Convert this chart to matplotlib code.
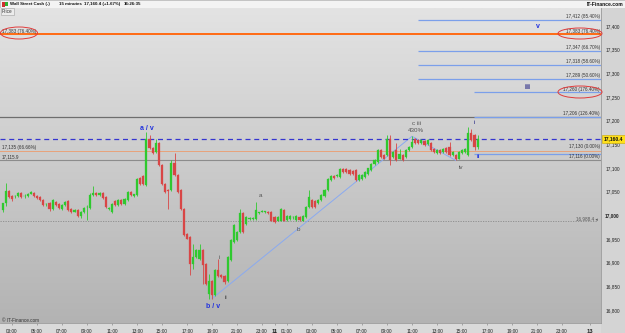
import matplotlib
matplotlib.use("Agg")
import matplotlib.pyplot as plt
import numpy as np
from matplotlib.patches import Ellipse, Rectangle
from matplotlib.colors import LinearSegmentedColormap

plt.rcParams['font.family'] = ['Liberation Sans', 'DejaVu Sans']

# ---------------- data ----------------
bar_start_hour = 2.25   # first 15-min bar (hours from day start)
bar_step = 0.25
opens = [17011,17025,17051,17040,17040,17040,17047,17040,17040,17046,
         17047,17040,17039,17032,17023,17025,17014,17028,17023,17014,
         17021,17030,17013,17008,17011,16999,17007,17017,17016,17042,
         17047,17042,17047,17039,17014,17007,17030,17021,17033,17023,
         17033,17050,17040,17042,17078,17083,17063,17162,17143,17134,
         17152,17106,17067,17053,17053,17111,17085,17053,17014,16961,
         16954,16898,16912,16908,16926,16898,16834,16862,16831,16884,
         16873,16871,16862,16905,16944,16947,16965,17004,16982,16993,
         16993,16993,17005,17008,17008,17008,17007,16996,16989,16989,
         17011,16991,16993,16996,16991,16996,16989,16996,17018,17033,
         17030,17025,17032,17040,17053,17074,17084,17084,17081,17097,
         17097,17095,17093,17095,17074,17076,17081,17088,17095,17109,
         17113,17138,17127,17127,17162,17123,17138,17120,17127,17124,
         17138,17145,17162,17159,17152,17157,17150,17152,17141,17131,
         17139,17134,17143,17145,17127,17127,17120,17131,17134,17127,
         17173,17169,17145]
highs = [17027,17068,17054,17042,17043,17049,17049,17044,17048,17052,
         17049,17042,17041,17034,17026,17028,17034,17031,17025,17023,
         17030,17032,17015,17014,17013,17009,17017,17021,17047,17061,
         17049,17049,17050,17041,17017,17025,17032,17034,17035,17036,
         17051,17052,17046,17078,17080,17085,17176,17169,17145,17162,
         17154,17108,17069,17055,17116,17132,17087,17055,17016,16963,
         16956,16940,16928,16940,16928,16900,16877,16864,16886,16908,
         16875,16873,16914,16949,16981,16967,17014,17006,16998,16996,
         16996,17028,17008,17011,17010,17010,17009,16998,16998,17015,
         17013,17000,17000,16999,17000,16998,17000,17020,17053,17035,
         17032,17035,17044,17055,17078,17085,17086,17087,17100,17099,
         17099,17097,17095,17097,17087,17087,17094,17101,17111,17118,
         17141,17140,17129,17169,17169,17136,17152,17141,17129,17140,
         17147,17167,17164,17161,17161,17159,17162,17154,17143,17140,
         17141,17143,17145,17155,17136,17129,17136,17140,17143,17187,
         17182,17171,17169]
lows = [17008,17020,17036,17030,17037,17038,17037,17036,17038,17044,
        17038,17035,17031,17019,17020,17010,17012,17019,17014,17012,
        17019,17010,17005,17006,16997,16994,17005,16990,17014,17040,
        17040,17040,17035,17016,17011,17005,17019,17019,17021,17021,
        17031,17040,17038,17040,17065,17064,17061,17141,17129,17132,
        17104,17065,17047,17014,17051,17083,17047,17012,16956,16949,
        16873,16887,16910,16906,16855,16853,16824,16824,16829,16869,
        16868,16855,16860,16903,16942,16945,16963,16963,16980,16990,
        16990,16991,17003,17006,17005,17003,16987,16984,16987,16987,
        16987,16989,16991,16993,16989,16989,16987,16994,17016,17016,
        17016,17023,17030,17038,17051,17072,17076,17082,17079,17090,
        17090,17086,17086,17072,17072,17074,17079,17086,17093,17107,
        17111,17122,17118,17125,17106,17121,17114,17118,17114,17122,
        17136,17143,17150,17150,17150,17146,17148,17136,17132,17129,
        17129,17132,17132,17125,17125,17116,17118,17129,17132,17125,
        17157,17138,17140]
closes = [17025,17051,17039,17035,17040,17047,17039,17041,17046,17050,
          17040,17037,17033,17021,17023,17014,17032,17021,17016,17021,
          17028,17012,17007,17012,16999,17007,17015,17018,17042,17047,
          17042,17047,17037,17018,17015,17023,17021,17032,17023,17034,
          17049,17042,17044,17076,17067,17066,17162,17143,17131,17152,
          17106,17067,17049,17052,17111,17085,17049,17014,16958,16951,
          16898,16912,16926,16926,16894,16855,16862,16831,16884,16871,
          16870,16859,16912,16947,16979,16965,17004,16965,16996,16994,
          16993,17011,17006,17009,17008,17005,16989,16986,16996,17013,
          16989,16998,16998,16997,16998,16991,16998,17018,17039,17018,
          17018,17033,17042,17053,17076,17083,17078,17085,17098,17092,
          17092,17088,17088,17074,17085,17085,17092,17099,17109,17116,
          17139,17124,17120,17162,17116,17134,17116,17130,17116,17138,
          17145,17155,17152,17152,17159,17148,17160,17138,17134,17138,
          17131,17141,17134,17127,17134,17118,17134,17138,17141,17173,
          17159,17145,17160.4]

# wave count trend line (time in hours, price)
wave_t = [19.0, 35.0, 38.5]
wave_p = [16824, 17167, 17116]

# horizontal levels
fib_right_prices = [17412, 17347, 17318, 17289]
fib_right_labels = ["17,412 (85.40%)", "17,347 (66.70%)", "17,318 (58.60%)", "17,289 (50.60%)"]
fib_right_start = 35.48
ext_prices = [17260, 17208, 17130]
ext_labels = ["17,260 (176.40%)", "17,206 (126.40%)", "17,130 (0.00%)"]
ext_start = 39.96
orange_level = 17383
orange_label = "17,383 (76.40%)"
thin_orange_level = 17135
thin_orange_label = "17,135 (66.66%)"
grey_level = 17116
grey_label_left = "17,115.9"
grey_label_right = "17,116 (0.00%)"
dark_level = 17208
last_price = 17160.4
last_label = "17,160.4"
dotted_level = 16988.4
dotted_label = "16,988.4 \u25c2"

y_ticks = [16800, 16850, 16900, 16950, 17000, 17050, 17100, 17150, 17200, 17250, 17300, 17350, 17400]
x_tick_hours = [3, 5, 7, 9, 11, 13, 15, 17, 19, 21, 23, 24, 25, 27, 29, 31, 33, 35, 37, 39, 41, 43, 45, 47, 49.2]
x_tick_labels = ["03:00", "05:00", "07:00", "09:00", "11:00", "13:00", "15:00", "17:00", "19:00", "21:00",
                 "23:00", "11", "01:00", "03:00", "05:00", "07:00", "09:00", "11:00", "13:00", "15:00",
                 "17:00", "19:00", "21:00", "23:00", "13"]

# ---------------- figure ----------------
W, H = 625, 333
fig = plt.figure(figsize=(W / 100, H / 100), dpi=100)

def fr(x0, y0, x1, y1):
    return [x0 / W, 1 - y1 / H, (x1 - x0) / W, (y1 - y0) / H]

def fx(x):
    return x / W

def fy(y):
    return 1 - y / H

# panels
hdr = fig.add_axes(fr(0, 0, 625, 8)); hdr.set_facecolor('#f3f3f3'); hdr.set_xticks([]); hdr.set_yticks([])
for s in hdr.spines.values(): s.set_color('#b0b0b0'); s.set_linewidth(0.5)
rp = fig.add_axes(fr(601, 8, 625, 333)); rp.set_facecolor('#d4d4d4'); rp.set_xticks([]); rp.set_yticks([])
for s in rp.spines.values(): s.set_visible(False)
bp = fig.add_axes(fr(0, 323, 601, 333)); bp.set_facecolor('#dadada'); bp.set_xticks([]); bp.set_yticks([])
for s in bp.spines.values(): s.set_visible(False)
for a in (hdr, rp, bp): a.set_zorder(0)

ax = fig.add_axes(fr(0, 8, 601, 323))
ax.set_zorder(2)
ax.patch.set_alpha(0)
xmin, xmax = 2.04, 50.12
ymin, ymax = 16772.5, 17438
ax.set_xlim(xmin, xmax)
ax.set_ylim(ymin, ymax)

cmap = LinearSegmentedColormap.from_list('bg', ['#b3b3b3', '#e3e3e3'])
grad = np.linspace(0, 1, 256).reshape(-1, 1)
ax.imshow(grad, extent=[xmin, xmax, ymin, ymax], origin='lower', aspect='auto', cmap=cmap, zorder=0)

for s in ax.spines.values():
    s.set_visible(False)
ax.spines['right'].set_visible(True); ax.spines['right'].set_color('#9a9a9a'); ax.spines['right'].set_linewidth(0.6)
ax.spines['bottom'].set_visible(True); ax.spines['bottom'].set_color('#9a9a9a'); ax.spines['bottom'].set_linewidth(0.6)

# ticks
ax.yaxis.tick_right()
ax.set_yticks(y_ticks)
ax.set_yticklabels([f"{v:,}" for v in y_ticks])
ax.tick_params(axis='y', length=0, pad=3, labelsize=3.4, labelcolor='#222222')
for t, v in zip(ax.get_yticklabels(), y_ticks):
    if v == 17000:
        t.set_fontweight('bold')
ax.set_xticks(x_tick_hours)
ax.set_xticklabels(x_tick_labels)
ax.tick_params(axis='x', length=1.5, width=0.4, color='#777777', pad=2.5, labelsize=3.4, labelcolor='#222222')
for t, lab in zip(ax.get_xticklabels(), x_tick_labels):
    if ':' not in lab:
        t.set_fontweight('bold'); t.set_fontsize(4.2)

# levels
ax.axhline(orange_level, color='#ff6a13', lw=1.4, zorder=3)
ax.axhline(dark_level, color='#6e6e6e', lw=0.9, zorder=2)
ax.axhline(thin_orange_level, color='#e8a27a', lw=0.7, zorder=2)
ax.axhline(grey_level, color='#8c8c8c', lw=0.8, zorder=2)
ax.axhline(last_price, color='#3535d0', lw=0.9, dashes=(4, 3), zorder=4)
ax.hlines(dotted_level, xmin, 49.8, color='#8a8a8a', lw=0.6, linestyles=(0, (1.5, 1.5)), zorder=2)
ax.hlines(fib_right_prices, fib_right_start, xmax, color='#7b9fea', lw=0.9, zorder=3)
ax.hlines(ext_prices, ext_start, xmax, color='#7b9fea', lw=0.9, zorder=3)

# wave line
ax.plot(wave_t, wave_p, color='#8aaaf0', lw=0.7, zorder=3)

# candles
times = [bar_start_hour + bar_step * i for i in range(len(closes))]
up_c, dn_c = '#2fc92f', '#d84646'
for t, o, h, l, c in zip(times, opens, highs, lows, closes):
    col = up_c if c >= o else dn_c
    ax.vlines(t, l, h, color=col, lw=0.6, zorder=5)
    bot = min(o, c)
    ht = max(abs(c - o), 1.2)
    ax.bar(t, ht, bottom=bot, width=0.17, color=col, edgecolor=col, lw=0.2, zorder=6)

# wave labels
blue, navy, grey = '#2233dd', '#1a1a80', '#555555'
ax.text(13.8, 17183, "a / v", color=blue, fontsize=5, fontweight='bold', ha='center', va='center', zorder=7)
ax.text(19.08, 16808, "b / v", color=blue, fontsize=5, fontweight='bold', ha='center', va='center', zorder=7)
ax.text(19.56, 16910, "i", color=grey, fontsize=4.5, ha='center', va='center', zorder=7)
ax.text(20.12, 16827, "ii", color=grey, fontsize=4.5, ha='center', va='center', zorder=7)
ax.text(22.84, 17041, "a", color=grey, fontsize=4.5, ha='center', va='center', zorder=7)
ax.text(25.88, 16971, "b", color=grey, fontsize=4.5, ha='center', va='center', zorder=7)
ax.text(35.32, 17195, "c iii", color=grey, fontsize=4.5, ha='center', va='center', zorder=7)
ax.text(35.32, 17180, "430%", color=grey, fontsize=4.5, ha='center', va='center', zorder=7)
ax.text(38.92, 17100, "iv", color=grey, fontsize=4.5, ha='center', va='center', zorder=7)
ax.text(39.96, 17197, "i", color=navy, fontsize=4.5, ha='center', va='center', zorder=7)
ax.text(40.28, 17125, "ii", color=blue, fontsize=4.5, fontweight='bold', ha='center', va='center', zorder=7)
ax.text(45.08, 17398, "v", color=blue, fontsize=5, fontweight='bold', ha='center', va='center', zorder=7)
ax.text(44.2, 17271, "iii", color=navy, fontsize=5, fontweight='bold', ha='center', va='center', zorder=7)

# level labels (figure pixel positions)
small = dict(fontsize=3.3, color='#333333', zorder=10)
right_label_y = [16.5, 47, 61, 75]
for lab, yy in zip(fib_right_labels, right_label_y):
    fig.text(fx(600), fy(yy), lab, ha='right', va='center', **small)
for lab, yy in zip(ext_labels, [89.5, 113.5, 147]):
    fig.text(fx(600), fy(yy), lab, ha='right', va='center', **small)
fig.text(fx(600), fy(31.5), orange_label, ha='right', va='center', **small)
fig.text(fx(600), fy(156.5), grey_label_right, ha='right', va='center', **small)
fig.text(fx(2), fy(31), orange_label, ha='left', va='center', **small)
fig.text(fx(2), fy(148), thin_orange_label, ha='left', va='center', **small)
fig.text(fx(2), fy(157), grey_label_left, ha='left', va='center', **small)
fig.text(fx(598), fy(218.5), dotted_label, ha='right', va='center', fontsize=3.3, color='#555555', zorder=10)

# red ellipses
for cx, cy, ew, eh in [(19, 33, 37, 12), (580, 33.5, 44, 11), (580, 92, 44, 12)]:
    e = Ellipse((fx(cx), fy(cy)), ew / W, eh / H, transform=fig.transFigure, fill=False,
                edgecolor='#e03a3a', lw=0.7, zorder=12)
    fig.add_artist(e)

# current price box
fig.add_artist(Rectangle((fx(602), fy(143)), 23 / W, 8 / H, transform=fig.transFigure,
                         facecolor='#ffe01a', edgecolor='#c9a800', lw=0.4, zorder=12))
fig.text(fx(613.5), fy(139), last_label, ha='center', va='center', fontsize=3.6, fontweight='bold',
         color='#111111', zorder=13)

# header
fig.add_artist(Rectangle((fx(2), fy(7)), 3 / W, 5 / H, transform=fig.transFigure, facecolor='#d03030', edgecolor='none', zorder=12))
fig.add_artist(Rectangle((fx(5), fy(6)), 3 / W, 4 / H, transform=fig.transFigure, facecolor='#30b030', edgecolor='none', zorder=12))
hdr_kw = dict(fontsize=3.2, fontweight='bold', color='#111111', va='center', ha='left', zorder=12)
fig.text(fx(10), fy(4.2), "Wall Street Cash (-)", **hdr_kw)
fig.text(fx(59), fy(4.2), "15 minutes", **hdr_kw)
fig.text(fx(84), fy(4.2), "17,160.4 (+1.67%)", **hdr_kw)
fig.text(fx(124), fy(4.2), "16:26:35", **hdr_kw)
fig.text(fx(623), fy(4.2), "IT-Finance.com", fontsize=3.6, fontweight='bold', color='#111111', va='center', ha='right', zorder=12)
fig.text(fx(2), fy(11.5), "Price", fontsize=3.3, color='#333333', va='center', ha='left', zorder=12,
         bbox=dict(boxstyle='square,pad=0.25', facecolor='#ececec', edgecolor='#a0a0a0', lw=0.4))
fig.text(fx(2), fy(320), "\u00a9 IT-Finance.com", fontsize=3.3, color='#333333', va='center', ha='left', zorder=12)

fig.savefig('out.png', dpi=100)
